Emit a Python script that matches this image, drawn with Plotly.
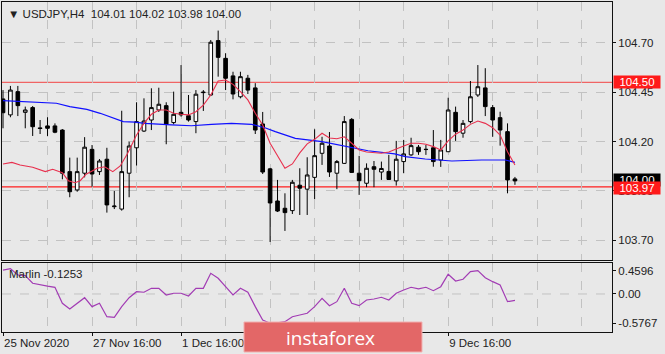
import plotly.graph_objects as go

# ---------------- data ----------------
bars = list(range(70))
opens = [104.416, 104.335, 104.453, 104.348, 104.372, 104.269, 104.279, 104.279, 104.258, 104.047,
         103.954, 104.039, 104.160, 104.047, 104.110, 103.869, 103.857, 104.039, 104.168, 104.253,
         104.309, 104.360, 104.382, 104.296, 104.348, 104.331, 104.301, 104.448, 104.436, 104.712,
         104.622, 104.533, 104.427, 104.521, 104.472, 104.289, 104.061, 103.898, 103.861, 103.849,
         103.978, 103.958, 104.018, 104.140, 104.177, 104.039, 104.089, 104.312, 104.039, 103.988,
         104.072, 104.045, 104.048, 104.000, 104.098, 104.132, 104.171, 104.159, 104.168, 104.106,
         104.148, 104.348, 104.242, 104.301, 104.436, 104.472, 104.372, 104.321, 104.250, 104.01]
highs = [104.461, 104.482, 104.482, 104.377, 104.380, 104.309, 104.323, 104.292, 104.263, 104.118,
         104.118, 104.222, 104.182, 104.111, 104.168, 103.949, 104.356, 104.199, 104.399, 104.419,
         104.470, 104.473, 104.399, 104.453, 104.588, 104.436, 104.461, 104.461, 104.715, 104.763,
         104.648, 104.554, 104.554, 104.538, 104.496, 104.350, 104.066, 104.005, 103.937, 104.005,
         104.064, 104.120, 104.262, 104.224, 104.248, 104.106, 104.329, 104.319, 104.127, 104.089,
         104.101, 104.098, 104.132, 104.203, 104.208, 104.219, 104.182, 104.182, 104.258, 104.208,
         104.422, 104.377, 104.309, 104.507, 104.588, 104.572, 104.385, 104.351, 104.292, 104.02]
lows = [104.267, 104.323, 104.329, 104.267, 104.228, 104.238, 104.228, 104.242, 104.008, 103.917,
        103.945, 104.018, 103.971, 104.030, 103.839, 103.857, 103.849, 103.917, 104.078, 104.248,
        104.258, 104.350, 104.186, 104.287, 104.326, 104.301, 104.242, 104.355, 104.431, 104.529,
        104.461, 104.414, 104.419, 104.441, 104.238, 104.035, 103.690, 103.842, 103.746, 103.832,
        103.827, 103.827, 103.907, 104.081, 104.020, 103.958, 104.086, 104.040, 103.929, 103.968,
        103.968, 104.005, 104.005, 103.976, 104.039, 104.127, 104.132, 104.132, 104.072, 104.071,
        104.147, 104.203, 104.219, 104.292, 104.426, 104.329, 104.224, 104.179, 103.937, 103.98]
closes = [104.346, 104.461, 104.382, 104.360, 104.275, 104.266, 104.267, 104.247, 104.039, 103.945,
          104.047, 104.171, 104.035, 104.101, 103.878, 103.872, 104.047, 104.177, 104.301, 104.304,
          104.372, 104.389, 104.289, 104.338, 104.335, 104.309, 104.440, 104.450, 104.704, 104.627,
          104.521, 104.441, 104.529, 104.461, 104.258, 104.045, 103.888, 103.847, 103.839, 103.993,
          103.963, 104.030, 104.128, 104.191, 104.045, 104.098, 104.301, 104.043, 104.001, 104.064,
          104.059, 104.063, 104.007, 104.110, 104.137, 104.179, 104.148, 104.160, 104.098, 104.157,
          104.360, 104.250, 104.292, 104.427, 104.478, 104.377, 104.309, 104.258, 104.005, 104.00]

ma_fast_x = [0, 1.2, 2.3, 4, 5.7, 6.7, 8, 8.8, 9.7, 10.4, 11.2, 12.7, 13.7, 14.8, 15.8, 16.8, 18, 19,
             20, 21, 22, 23, 24, 25, 26, 27, 28, 29, 30, 31, 32, 33, 34, 35, 36, 37, 38, 39,
             40, 41, 42, 43, 44, 45, 46, 47, 48, 49, 50, 51, 52, 53, 54, 55, 56, 57, 58, 59,
             60, 61, 62, 63, 64, 65, 66, 67, 68, 69]
ma_fast_y = [104.086, 104.094, 104.081, 104.069, 104.047, 104.059, 104.042, 104.001, 103.991, 104.001,
             104.034, 104.064, 104.072, 104.047, 104.076, 104.140, 104.233, 104.292,
             104.338, 104.360, 104.360, 104.343, 104.338, 104.335, 104.351, 104.385, 104.436, 104.507,
             104.512, 104.490, 104.453, 104.411, 104.343, 104.284, 104.191, 104.127, 104.064, 104.086,
             104.142, 104.188, 104.211, 104.242, 104.218, 104.214, 104.224, 104.191, 104.157, 104.147,
             104.142, 104.140, 104.147, 104.160, 104.177, 104.191, 104.191, 104.186, 104.174, 104.157,
             104.203, 104.237, 104.258, 104.287, 104.304, 104.292, 104.270, 104.233, 104.148, 104.081]

ma_slow_x = [0, 3.6, 7.2, 9, 11.3, 13.1, 14.9, 16.2, 17.8, 19.1, 22.7, 25.4, 28.1, 30.8, 33.5,
             35.3, 36.7, 39.4, 43, 46.5, 49.2, 52.8, 54.2, 56.9, 60.5, 64.5, 67.7, 69]
ma_slow_y = [104.407, 104.402, 104.394, 104.377, 104.363, 104.343, 104.318, 104.301, 104.298, 104.292,
             104.284, 104.280, 104.287, 104.292, 104.287, 104.270, 104.250, 104.216, 104.199, 104.174,
             104.153, 104.137, 104.123, 104.111, 104.101, 104.106, 104.106, 104.094]

marlin = [0.47, 0.50, 0.375, 0.361, 0.211, 0.178, 0.155, 0.132, -0.183, -0.296,
          -0.183, -0.073, -0.250, -0.183, -0.448, -0.460, -0.250, -0.073, 0.045, 0.034,
          0.112, 0.112, -0.020, 0.014, 0.014, -0.039, 0.112, 0.112, 0.408, 0.310,
          0.144, -0.020, 0.112, 0.034, -0.250, -0.513, -0.5767, -0.57, -0.546, -0.448,
          -0.414, -0.381, -0.250, -0.085, -0.231, -0.152, 0.112, -0.183, -0.231, -0.118,
          -0.099, -0.065, -0.118, 0.014, 0.079, 0.132, 0.099, 0.132, 0.065, 0.144,
          0.389, 0.256, 0.290, 0.440, 0.4596, 0.321, 0.243, 0.178, -0.152, -0.1253]

price_ticks = [104.70, 104.45, 104.20, 103.95, 103.70]
price_tick_text = ["104.70", "104.45", "104.20", "103.95", "103.70"]
ind_ticks = [0.4596, 0.0, -0.5767]
ind_tick_text = ["0.4596", "0.00", "-0.5767"]
time_tick_bars = [0, 12, 24, 36, 48, 60]
# labels at bars 24 and 36 are hidden under the watermark in the reference
time_tick_text = ["25 Nov 2020", "27 Nov 16:00", "1 Dec 16:00", "", "", "9 Dec 16:00"]
grid_minor_bars = [6, 18, 30, 42, 54, 66, 72, 78]
level_high = 104.50
level_low = 103.97
bid_price = 104.00

BG = "#e8e8e8"
GRID = "#c2c2c2"
FONT = "Liberation Sans, Arial, sans-serif"
FS = 11.5

fig = go.Figure()

fig.add_trace(go.Candlestick(
    x=bars, open=opens, high=highs, low=lows, close=closes,
    increasing=dict(fillcolor="white", line=dict(color="black", width=1)),
    decreasing=dict(fillcolor="black", line=dict(color="black", width=1)),
    whiskerwidth=0, hoverinfo="skip", showlegend=False, xaxis="x", yaxis="y"))

fig.add_trace(go.Scatter(x=ma_slow_x, y=ma_slow_y, mode="lines",
                         line=dict(color="#1010ff", width=1.2), hoverinfo="skip",
                         showlegend=False, xaxis="x", yaxis="y"))
fig.add_trace(go.Scatter(x=ma_fast_x, y=ma_fast_y, mode="lines",
                         line=dict(color="#e8304e", width=1.1), hoverinfo="skip",
                         showlegend=False, xaxis="x", yaxis="y"))

fig.add_trace(go.Scatter(x=bars, y=marlin, mode="lines",
                         line=dict(color="#a23cb4", width=1.2), hoverinfo="skip",
                         showlegend=False, xaxis="x2", yaxis="y2"))

xr = [-0.135, 82.08]

fig.update_layout(
    width=665, height=354,
    margin=dict(l=2, r=53, t=2, b=22),
    paper_bgcolor=BG, plot_bgcolor=BG,
    font=dict(family=FONT, size=FS, color="#222222"),
    showlegend=False,
    xaxis=dict(domain=[0, 1], range=xr, anchor="y", showticklabels=False,
               tickvals=time_tick_bars, ticks="", showgrid=True, gridcolor=GRID,
               griddash="dash", gridwidth=1,
               minor=dict(tickvals=grid_minor_bars, showgrid=True, gridcolor=GRID,
                          griddash="dash", ticks=""),
               showline=True, mirror=True, linecolor="#111111", linewidth=1,
               zeroline=False, rangeslider=dict(visible=False), fixedrange=True),
    yaxis=dict(domain=[0.2182, 1], range=[103.5985, 104.908], side="right", anchor="x",
               tickvals=price_ticks, ticktext=price_tick_text, ticks="outside",
               ticklen=3, tickcolor="#111111", showgrid=True, gridcolor=GRID,
               griddash="dash", showline=True, mirror=True, linecolor="#111111",
               linewidth=1, zeroline=False, fixedrange=True,
               tickfont=dict(family=FONT, size=FS, color="#222222")),
    xaxis2=dict(domain=[0, 1], range=xr, anchor="y2",
                tickvals=time_tick_bars, ticktext=time_tick_text, ticks="outside",
                ticklen=3, tickcolor="#111111", ticklabelposition="outside right",
                showgrid=True, gridcolor=GRID, griddash="dash",
                minor=dict(tickvals=grid_minor_bars, showgrid=True, gridcolor=GRID,
                           griddash="dash", ticks=""),
                showline=True, mirror=True, linecolor="#111111", linewidth=1,
                zeroline=False, fixedrange=True,
                tickfont=dict(family=FONT, size=FS, color="#222222")),
    yaxis2=dict(domain=[0, 0.2091], range=[-0.75, 0.611], side="right", anchor="x2",
                tickvals=ind_ticks, ticktext=ind_tick_text, ticks="outside", ticklen=3,
                tickcolor="#111111", showgrid=False, showline=True, mirror=True,
                linecolor="#111111", linewidth=1, zeroline=False, fixedrange=True,
                tickfont=dict(family=FONT, size=FS, color="#222222")),
)

shapes = [
    dict(type="line", xref="x2 domain", yref="y2", x0=0, x1=1, y0=0, y1=0,
         line=dict(color=GRID, width=1, dash="dash"), layer="below"),
    dict(type="line", xref="x domain", yref="y", x0=0, x1=1, y0=bid_price, y1=bid_price,
         line=dict(color="#c6c6c6", width=1), layer="below"),
    dict(type="line", xref="x domain", yref="y", x0=0, x1=1, y0=level_high, y1=level_high,
         line=dict(color="#f06464", width=1.3), layer="below"),
    dict(type="line", xref="x domain", yref="y", x0=0, x1=1, y0=level_low, y1=level_low,
         line=dict(color="#ff1e1e", width=1.2), layer="below"),
    # watermark box
    dict(type="rect", xref="paper", yref="paper", x0=0.3967, x1=0.6885, y0=-0.0606, y1=0.0303,
         fillcolor="#e36767", line=dict(color="#f2b0b0", width=1), layer="above"),
]
fig.update_layout(shapes=shapes)

ann = [
    dict(xref="paper", yref="paper", x=0, y=1, xanchor="left", yanchor="top",
         xshift=4, yshift=-4, showarrow=False,
         text="\u25bc USDJPY,H4\u00a0\u00a0104.01 104.02 103.98 104.00",
         font=dict(family=FONT, size=FS, color="#222222")),
    dict(xref="paper", yref="paper", x=0, y=0.2091, xanchor="left", yanchor="top",
         xshift=5, yshift=-3, showarrow=False, text="Marlin -0.1253",
         font=dict(family=FONT, size=FS, color="#222222")),
    dict(xref="paper", yref="y", x=1, y=level_high, xanchor="left", yanchor="middle",
         xshift=1, showarrow=False, text="104.50", bgcolor="#ff1a1a", width=46, height=12,
         borderpad=0, font=dict(family=FONT, size=FS, color="white")),
    dict(xref="paper", yref="y", x=1, y=bid_price, xanchor="left", yanchor="middle",
         xshift=1, yshift=1, showarrow=False, text="104.00", bgcolor="#000000", width=46, height=12,
         borderpad=0, font=dict(family=FONT, size=FS, color="white")),
    dict(xref="paper", yref="y", x=1, y=level_low, xanchor="left", yanchor="middle",
         xshift=1, yshift=-1, showarrow=False, text="103.97", bgcolor="#ff1a1a", width=46, height=12,
         borderpad=0, font=dict(family=FONT, size=FS, color="white")),
    dict(xref="paper", yref="paper", x=0.539, y=-0.018, xanchor="center", yanchor="middle",
         showarrow=False, text="instaforex",
         font=dict(family="Open Sans, Liberation Sans, sans-serif", size=19, color="white")),
]
fig.update_layout(annotations=ann)

fig.write_html("out.html", config={"displayModeBar": False})
